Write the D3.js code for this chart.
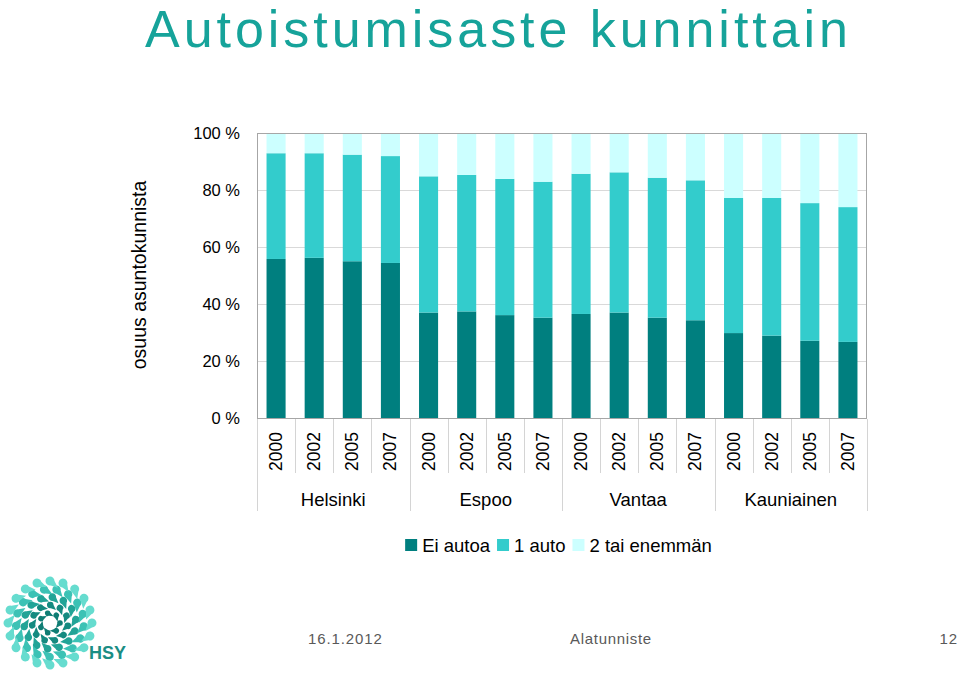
<!DOCTYPE html>
<html>
<head>
<meta charset="utf-8">
<script src="https://cdn.jsdelivr.net/npm/d3@7"></script>
<style>
  html, body { margin: 0; padding: 0; background: #fff; }
  svg { display: block; font-family: "Liberation Sans", Arial, sans-serif; }
</style>
</head>
<body>
<svg id="chart" width="960" height="674"></svg>
<script>
// ---- data ----
const municipalities = ["Helsinki", "Espoo", "Vantaa", "Kauniainen"];
const years = ["2000", "2002", "2005", "2007"];
const seriesNames = ["Ei autoa", "1 auto", "2 tai enemmän"];
// share of households (%) without a car, per municipality × year
const eiAutoa   = [55.8, 56.2, 55.0, 54.4,  37.0, 37.4, 36.1, 35.2,  36.5, 37.0, 35.2, 34.3,  29.8, 28.9, 27.1, 26.7];
// share with one car
const yksiAuto  = [37.1, 36.7, 37.4, 37.5,  47.8, 47.9, 47.8, 47.7,  49.2, 49.2, 49.1, 49.1,  47.4, 48.3, 48.3, 47.3];
// share with two or more cars
const kaksiTai  = [ 7.1,  7.1,  7.6,  8.1,  15.2, 14.7, 16.1, 17.1,  14.3, 13.8, 15.7, 16.6,  22.8, 22.8, 24.6, 26.0];
const yTicks = [0, 20, 40, 60, 80, 100];
const colors = ["#007F7F", "#33CCCC", "#CCFFFF"];

// ---- layout ----
const svg = d3.select("#chart");
const plot = { left: 257, right: 867, top: 133, bottom: 418 };

const cats = [];
municipalities.forEach(m => years.forEach(y => cats.push({ m, y, key: m + "|" + y })));
const rows = cats.map((c, i) => ({ key: c.key, m: c.m, y: c.y,
  "Ei autoa": eiAutoa[i], "1 auto": yksiAuto[i], "2 tai enemmän": kaksiTai[i] }));

const x = d3.scaleBand().domain(cats.map(c => c.key))
  .range([plot.left, plot.right]).paddingInner(0.5).paddingOuter(0.25);
const y = d3.scaleLinear().domain([0, 100]).range([plot.bottom, plot.top]);
const step = x.step();

// title
svg.append("text")
  .attr("x", 145).attr("y", 47)
  .attr("textLength", 703).attr("lengthAdjust", "spacing")
  .attr("font-size", 52).attr("fill", "#16A39A")
  .text("Autoistumisaste kunnittain");

// gridlines
svg.append("g").selectAll("line").data(yTicks.filter(t => t > 0 && t < 100)).join("line")
  .attr("x1", plot.left).attr("x2", plot.right)
  .attr("y1", d => y(d) + 0.5).attr("y2", d => y(d) + 0.5)
  .attr("stroke", "#d9d9d9").attr("stroke-width", 1);

// stacked bars
const stack = d3.stack().keys(seriesNames);
const layers = stack(rows);
svg.append("g").selectAll("g").data(layers).join("g")
  .attr("fill", (d, i) => colors[i])
  .selectAll("rect").data(d => d).join("rect")
  .attr("x", d => x(d.data.key))
  .attr("width", x.bandwidth())
  .attr("y", d => y(Math.min(d[1], 100)))
  .attr("height", d => y(d[0]) - y(Math.min(d[1], 100)));

// plot border
svg.append("rect")
  .attr("x", plot.left + 0.5).attr("y", plot.top + 0.5)
  .attr("width", plot.right - plot.left - 1).attr("height", plot.bottom - plot.top)
  .attr("fill", "none").attr("stroke", "#a6a6a6").attr("stroke-width", 1);

// y axis labels
const yAxis = d3.axisLeft(y).tickValues(yTicks).tickFormat(d => d + " %").tickSize(0).tickPadding(0);
const ya = svg.append("g").attr("transform", `translate(${plot.left - 17},0)`).call(yAxis);
ya.select(".domain").remove();
ya.selectAll("text").attr("font-size", 16.5).attr("fill", "#000")
  .attr("font-family", "'Liberation Sans', Arial, sans-serif");

// y axis title
svg.append("text")
  .attr("transform", "translate(146,275) rotate(-90)")
  .attr("text-anchor", "middle")
  .attr("font-size", 19.5).attr("fill", "#000")
  .text("osuus asuntokunnista");

// category separators
const sepG = svg.append("g").attr("stroke", "#d4d4d4").attr("stroke-width", 1);
const boundaries = d3.range(cats.length + 1);
sepG.selectAll("line").data(boundaries).join("line")
  .attr("x1", i => Math.round(plot.left + i * step) + 0.5)
  .attr("x2", i => Math.round(plot.left + i * step) + 0.5)
  .attr("y1", plot.bottom + 1)
  .attr("y2", i => (i % years.length === 0) ? 511 : 473);

// year labels
svg.append("g").selectAll("text").data(cats).join("text")
  .attr("transform", d => `translate(${x(d.key) + x.bandwidth() / 2 + 6},432) rotate(-90)`)
  .attr("text-anchor", "end")
  .attr("font-size", 17.5).attr("fill", "#000")
  .text(d => d.y);

// municipality labels
svg.append("g").selectAll("text").data(municipalities).join("text")
  .attr("x", m => {
    const first = x(m + "|" + years[0]) - step * 0.25;
    return first + step * years.length / 2;
  })
  .attr("y", 506)
  .attr("text-anchor", "middle")
  .attr("font-size", 18.5).attr("fill", "#000")
  .text(m => m);

// legend
const lg = svg.append("g");
let lx = 0;
seriesNames.forEach((name, i) => {
  const g = lg.append("g").attr("transform", `translate(${lx},0)`);
  g.append("rect").attr("x", 0).attr("y", -13).attr("width", 12).attr("height", 12).attr("fill", colors[i]);
  const t = g.append("text").attr("x", 17).attr("y", 0).attr("font-size", 18.5).attr("fill", "#000").text(name);
  const w = t.node().getComputedTextLength();
  lx += 17 + w + 7;
});
const totalW = lx - 7;
lg.attr("transform", `translate(${558.5 - totalW / 2},552)`);

// logo (HSY)
const logo = svg.append("g").attr("transform", "translate(50,623)");
const rings = [
  { r: 10, n: 7,  s: 2.8, c: "#0f7d74" },
  { r: 18, n: 11, s: 3.3, c: "#148a80" },
  { r: 26, n: 14, s: 3.8, c: "#22a497" },
  { r: 34, n: 17, s: 4.2, c: "#3cc2b5" },
  { r: 42, n: 20, s: 4.5, c: "#66dccf" }
];
function dropPath(s) {
  const a = 40 * Math.PI / 180;
  return `M${s * Math.cos(a)},${s * Math.sin(a)} A${s},${s} 0 1,1 ${s * Math.cos(-a)},${s * Math.sin(-a)} L${2.3 * s},0 Z`;
}
rings.forEach((rg, ri) => {
  d3.range(rg.n).forEach(k => {
    const th = (k / rg.n) * 360 + ri * 9;
    const rad = th * Math.PI / 180;
    logo.append("path")
      .attr("d", dropPath(rg.s))
      .attr("fill", rg.c)
      .attr("transform", `translate(${rg.r * Math.cos(rad)},${rg.r * Math.sin(rad)}) rotate(${th + 130})`);
  });
});
svg.append("text").attr("x", 89).attr("y", 659)
  .attr("font-size", 18).attr("font-weight", "bold").attr("fill", "#1a8d84")
  .text("HSY");

// footer
svg.append("text").attr("x", 308).attr("y", 644).attr("font-size", 15)
  .attr("letter-spacing", 0.9).attr("fill", "#595959").text("16.1.2012");
svg.append("text").attr("x", 570).attr("y", 644).attr("font-size", 15)
  .attr("letter-spacing", 0.7).attr("fill", "#595959").text("Alatunniste");
svg.append("text").attr("x", 958).attr("y", 644).attr("font-size", 15).attr("text-anchor", "end")
  .attr("letter-spacing", 0.9).attr("fill", "#595959").text("12");
</script>
</body>
</html>
